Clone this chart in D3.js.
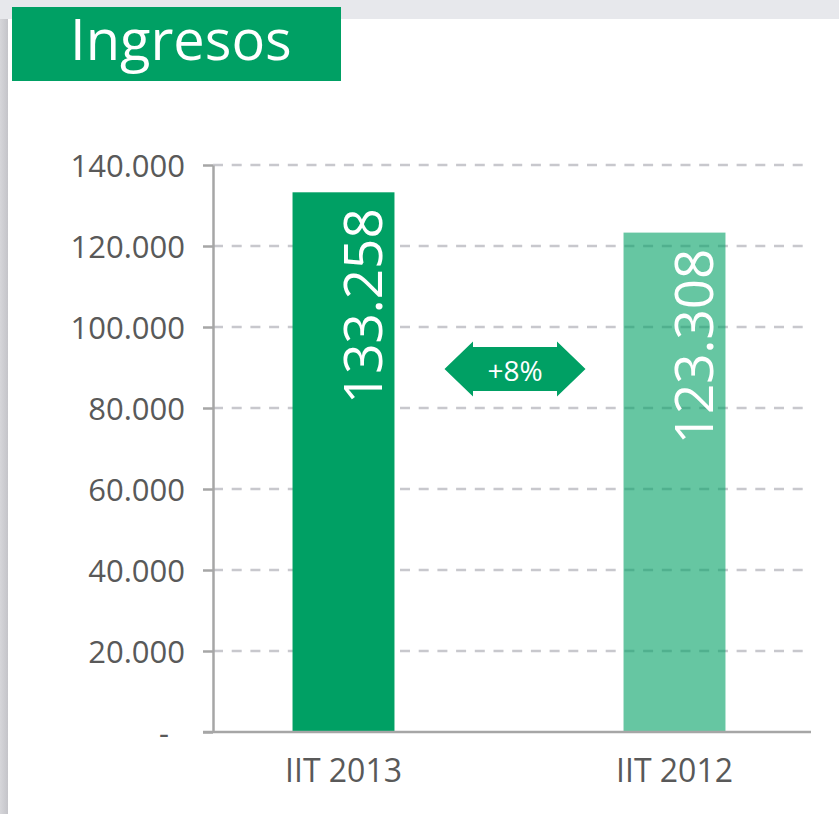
<!DOCTYPE html>
<html>
<head>
<meta charset="utf-8">
<script src="https://cdn.jsdelivr.net/npm/d3@7"></script>
<style>
  body { margin: 0; background: #fff; }
  svg { display: block; font-family: "Open Sans", sans-serif; }
</style>
</head>
<body>
<svg id="chart" width="839" height="814"></svg>
<script>
// Data
const categories = ['IIT 2013', 'IIT 2012'];
const values = [133258, 123308];
const yTicks = [0, 20000, 40000, 60000, 80000, 100000, 120000, 140000];
const title = 'Ingresos';
const changeLabel = '+8%';

// Styles
const green = '#00a064';
const barOpacity = [1, 0.6];
const axisColor = '#a6a6a6';
const gridColor = '#c8c8cd';
const textColor = '#595959';
const fontFamily = '"Open Sans", sans-serif';

const svg = d3.select('#chart');

// Slide background: grey band on top and shadow strip on the left
svg.append('rect').attr('x', 0).attr('y', 0).attr('width', 839).attr('height', 19).attr('fill', '#e7e8ec');
const defs = svg.append('defs');
const grad = defs.append('linearGradient').attr('id', 'edge').attr('x1', 0).attr('x2', 1);
grad.append('stop').attr('offset', 0).attr('stop-color', '#d6d6da');
grad.append('stop').attr('offset', 1).attr('stop-color', '#c4c4c9');
svg.append('rect').attr('x', 0).attr('y', 19).attr('width', 8).attr('height', 795).attr('fill', 'url(#edge)');

// Title box
svg.append('rect').attr('x', 12).attr('y', 7).attr('width', 329).attr('height', 74).attr('fill', green);
svg.append('text')
  .attr('x', 70)
  .attr('y', 60)
  .attr('fill', '#fff')
  .attr('font-size', 56)
  .text(title);

// Scales
const plotLeft = 213;
const plotRight = 811;
const y = d3.scaleLinear().domain([0, 140000]).range([732, 165]);
const x = d3.scaleBand()
  .domain(categories)
  .range([178, 840])
  .paddingInner(0.692)
  .paddingOuter(0.346);

const fmt = (d) => d3.format(',')(d).replace(/,/g, '.');

// Gridlines (drawn under the bars)
svg.append('g')
  .selectAll('line')
  .data(yTicks.filter((d) => d > 0))
  .join('line')
  .attr('x1', plotLeft)
  .attr('x2', plotRight)
  .attr('y1', (d) => y(d))
  .attr('y2', (d) => y(d))
  .attr('stroke', gridColor)
  .attr('stroke-width', 2.5)
  .attr('stroke-dasharray', '10,8.7');

// Bars
svg.append('g')
  .selectAll('rect')
  .data(values)
  .join('rect')
  .attr('x', (d, i) => x(categories[i]))
  .attr('y', (d) => y(d))
  .attr('width', x.bandwidth())
  .attr('height', (d) => y(0) - y(d))
  .attr('fill', green)
  .attr('fill-opacity', (d, i) => barOpacity[i]);

// Value labels, rotated inside the bars
svg.append('g')
  .selectAll('text')
  .data(values)
  .join('text')
  .attr('transform', (d, i) => {
    const cx = x(categories[i]) + x.bandwidth() / 2 + 38;
    return `translate(${cx},${y(d) + 16}) rotate(-90)`;
  })
  .attr('text-anchor', 'end')
  .attr('fill', '#fff')
  .attr('font-size', 53)
  .text((d) => fmt(d));

// Y axis
const yAxis = svg.append('g')
  .attr('transform', `translate(${plotLeft},0)`)
  .call(
    d3.axisLeft(y)
      .tickValues(yTicks)
      .tickSize(10)
      .tickSizeOuter(0)
      .tickPadding(18)
      .tickFormat((d) => (d === 0 ? '-\u00a0\u00a0' : fmt(d)))
  )
  .attr('font-family', fontFamily);
yAxis.select('.domain').attr('stroke', axisColor).attr('stroke-width', 2.5);
yAxis.selectAll('.tick line').attr('stroke', axisColor).attr('stroke-width', 2.5);
yAxis.selectAll('.tick text')
  .attr('fill', textColor)
  .attr('font-size', 31)
  .attr('dy', '0.36em');

// X axis
svg.append('line')
  .attr('x1', 203)
  .attr('x2', plotRight)
  .attr('y1', y(0))
  .attr('y2', y(0))
  .attr('stroke', axisColor)
  .attr('stroke-width', 2.5);
const xAxis = svg.append('g')
  .attr('transform', `translate(0,${y(0)})`)
  .call(d3.axisBottom(x).tickSize(0).tickPadding(27))
  .attr('font-family', fontFamily);
xAxis.select('.domain').remove();
xAxis.selectAll('.tick text').attr('fill', textColor).attr('font-size', 32);

// Change arrow between the bars
const ax = (x(categories[0]) + x(categories[1]) + x.bandwidth()) / 2 + 6;
const ay = y(89600);
const arrow = svg.append('g').attr('transform', `translate(${ax},${ay})`);
const tip = 70.5, neck = 42, head = 27.5, body = 22;
arrow.append('path')
  .attr('d', d3.line()([
    [-tip, 0], [-neck, -head], [-neck, -body], [neck, -body], [neck, -head],
    [tip, 0], [neck, head], [neck, body], [-neck, body], [-neck, head]
  ]) + 'Z')
  .attr('fill', green);
arrow.append('text')
  .attr('text-anchor', 'middle')
  .attr('y', 12)
  .attr('fill', '#fff')
  .attr('font-size', 28)
  .text(changeLabel);
</script>
</body>
</html>
